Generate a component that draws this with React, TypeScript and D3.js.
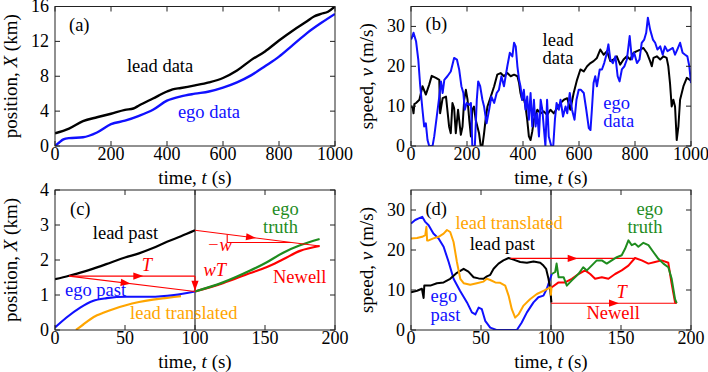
import React from 'react';
import * as d3 from 'd3';

type P = [number, number];

// (a) position X (km) vs time t (s)
const leadPosA: P[] = [[0,1.45],[50,2.0],[100,2.85],[150,3.3],[200,3.7],[250,4.15],[280,4.3],[300,4.65],[350,5.45],[400,6.25],[420,6.5],[450,6.65],[500,6.95],[550,7.3],[600,7.8],[650,8.65],[700,9.85],[750,10.85],[800,12.1],[850,13.25],[900,14.3],[925,14.85],[950,15.15],[975,15.4],[1000,16.0]];
const egoPosA: P[] = [[0,0],[15,0.4],[30,0.75],[50,0.9],[100,1.0],[150,1.55],[200,2.5],[250,2.9],[300,3.45],[350,4.15],[400,5.2],[450,5.7],[500,6.0],[550,6.25],[600,6.7],[650,7.3],[700,8.1],[750,9.15],[800,10.25],[850,11.6],[900,12.95],[950,14.1],[1000,15.15]];

// (b) speed v (m/s) vs time t (s)
const leadSpeedB: P[] = [[0,10],[2,9.9],[6,9.5],[9,8.2],[12,10.5],[18,10.8],[30,11.6],[41,15],[53,12.9],[65,15.4],[74,17.6],[89,17.1],[101,16.6],[104,8.2],[113,12],[125,12.4],[136,4.9],[142,3.2],[148,10.8],[154,9.5],[160,3.2],[168,9.1],[178,2.8],[184,4.9],[190,11.6],[196,14.1],[202,11.6],[208,6.6],[214,2.4],[219,9.1],[225,9.9],[231,6.6],[243,3.2],[249,0],[255,0],[261,3.2],[267,7],[273,9.9],[285,12.4],[297,15],[308,17.9],[320,18.3],[332,17.5],[344,18.3],[356,17.5],[368,17.9],[380,17.5],[386,15.8],[391,13.3],[397,11.6],[403,12],[409,9.9],[415,6.6],[421,2.4],[427,1.5],[433,3.6],[439,6.6],[451,9.1],[463,8.2],[474,8.7],[486,7.8],[498,9.1],[510,8.2],[522,9.5],[534,10.8],[546,11.6],[558,12],[569,9.1],[581,13.3],[593,16.6],[605,19.2],[617,18.7],[629,20],[641,20.8],[652,21.3],[664,22.1],[676,24.2],[688,22.9],[700,23.8],[712,21.3],[724,21.7],[735,22.5],[747,20.4],[759,21.7],[771,22.5],[783,21.7],[795,23.4],[807,23.8],[819,24.2],[830,24.6],[842,23.4],[854,21.3],[860,20],[866,22.1],[878,22.5],[890,21.7],[902,22.5],[913,22.1],[919,20],[925,15.8],[931,9.9],[937,11.6],[943,9.9],[949,1.5],[955,4.9],[961,11.6],[973,15],[985,17.1],[996,16.6],[1000,16.4]];
const egoSpeedB: P[] = [[0,26.9],[2,26.9],[9,28.4],[18,26.3],[26,21.7],[33,15],[41,9.1],[47,4.9],[53,5.7],[59,1.5],[65,0],[77,0],[83,2.4],[92,7.4],[101,12.4],[107,16.2],[113,13.3],[119,16.6],[130,17.5],[142,18.7],[154,22.1],[164,21.7],[172,19.2],[180,15],[187,13.3],[192,9.1],[199,10.8],[208,10.3],[214,10.8],[219,0],[228,0],[235,11.6],[240,16.2],[247,15],[255,11.6],[261,9.9],[270,5.7],[279,9.1],[287,12.4],[297,10.8],[306,13.3],[314,14.1],[323,17.5],[332,15],[344,20],[353,23.4],[362,22.5],[368,25.9],[374,25],[380,20],[386,16.6],[391,15],[397,11.6],[403,14.1],[409,9.1],[415,12.4],[421,6.6],[427,13.3],[433,4.9],[439,11.6],[445,4.9],[451,8.2],[457,2.4],[463,11.6],[469,9.1],[474,4.9],[480,0],[486,11.6],[492,2.4],[501,0],[508,0],[514,6.6],[520,10.8],[528,9.1],[534,11.6],[543,7.4],[552,9.9],[558,8.2],[567,13.3],[575,9.1],[584,6.6],[591,11.6],[599,14.1],[607,14.1],[617,13.3],[626,9.1],[635,4.5],[641,4],[646,9.1],[652,15.8],[658,17.5],[664,15],[674,19.2],[682,19.2],[690,20.8],[698,22.9],[705,25.5],[712,21.7],[721,20.8],[730,22.5],[738,17.5],[745,16.2],[753,19.2],[762,20],[771,21.7],[781,27.6],[789,21.7],[797,23.4],[807,20.8],[816,21.7],[824,25.9],[833,26.7],[840,28.4],[846,32.2],[854,29.2],[864,26.7],[872,25.9],[880,24.2],[890,25],[899,22.9],[907,25],[916,23.8],[925,24.2],[935,24.6],[943,22.9],[951,24.2],[961,25.9],[970,23.4],[979,22.9],[987,22.5],[994,20],[1000,15.8]];

// (c) position, zoom on 0..200 s
const leadPastC: P[] = [[0,1.45],[10,1.55],[20,1.66],[30,1.79],[40,1.93],[50,2.07],[60,2.19],[70,2.34],[80,2.52],[90,2.68],[100,2.85]];
const egoPastC: P[] = [[0,0.07],[8,0.35],[18,0.64],[27,0.83],[37,0.91],[51,0.95],[68,0.95],[85,1.0],[100,1.1]];
const leadTransC: P[] = [[15,0],[20,0.15],[25,0.3],[30,0.42],[35,0.5],[42,0.6],[50,0.7],[60,0.8],[70,0.87],[80,0.92],[90,0.97]];
const egoTruthC: P[] = [[100,1.1],[120,1.36],[139,1.69],[151,1.93],[163,2.21],[175,2.42],[189,2.6]];
const newellC: P[] = [[100,1.1],[120,1.34],[139,1.62],[151,1.79],[163,2.02],[175,2.26],[189,2.4]];
const arrowTC: P[] = [[10,1.54],[100,1.54]];
const arrowDiagC: P[] = [[10,1.54],[100,1.1]];
const arrowWTC: P[] = [[100,1.54],[100,1.12]];
const arrowWaveC: P[] = [[100,2.85],[189,2.4]];
const slopeC: P[] = [[123,2.73],[123,2.5],[169,2.5]];

// (d) speed, zoom on 0..200 s
const egoPastD: P[] = [[0,26.6],[3,27.5],[5.5,27.9],[8,28.3],[10,27.1],[12.6,26.2],[16,24.1],[19.7,22.9],[23.3,20.8],[26.9,17],[30.4,12.8],[35,9.8],[40,6.9],[43.5,4.4],[46,3.9],[48.3,5.6],[50.6,5.2],[53,2.3],[56.6,0.6],[61,0],[75.6,0],[79,1.8],[82.8,4.4],[87.5,6.9],[91,8.2],[94.6,8.6],[97,10.3],[99.4,12.8],[100.6,14]];
const leadPastD: P[] = [[0,9.4],[4.3,9.8],[7.8,10.3],[9,8],[9.5,11.1],[13.8,11.1],[18.5,11.7],[23.3,11.9],[28,12.8],[32.8,14.3],[37.6,15.3],[41,14.6],[44.7,13.2],[48.3,12.9],[51.8,12.8],[54.2,13.4],[56.6,13.8],[59,15.3],[62.5,16.6],[66,17.4],[69.7,18],[73.2,17.6],[78,17],[82.8,16.8],[87.5,17.1],[92.3,16.8],[94.6,16.1],[96.5,15.3],[98.2,12.8],[99.4,10.3],[100.3,6.9]];
const leadTransD: P[] = [[0,22.9],[4.3,23],[8,23.3],[10.2,23.7],[11,25.8],[11.5,22.4],[12.6,22.4],[16,22.9],[19.7,23.3],[23.3,24.1],[25.7,25],[28,24.5],[30.4,22],[32.8,17],[35.2,12.8],[37.6,11.7],[42.3,11.3],[47,11.7],[51.8,12.1],[54.2,12.8],[56.6,12.5],[60.2,11.9],[63.7,11.8],[67.3,11.1],[69.7,8.6],[72,5.2],[74.4,3.1],[76.8,3.9],[80.4,6.1],[85,7.7],[89.9,9],[94.6,9.8],[98.2,10.4],[99.6,10.7],[99.9,8.8],[100.4,10.7]];
const newellD: P[] = [[100.6,10.7],[105.4,11.9],[110,11.9],[114.9,12.8],[119.6,14],[124.4,14.9],[128,14],[131.5,12.8],[136.3,13.2],[141,12.8],[145.8,14],[150.5,14.9],[155.3,16.1],[160,18],[164.8,17.4],[169.6,16.6],[174.3,17],[179,17.4],[183.8,16.8],[186,11.9],[188.6,6.9],[189.3,6.7]];
const egoTruthD: P[] = [[100.6,14],[103,14.5],[104,16.6],[105.4,13.2],[109,13.2],[111.3,11.1],[114.9,12.4],[119.6,14],[123,15.7],[125.6,14.9],[129,16.1],[132.7,17.4],[136.3,17.4],[139.8,16.6],[143.4,17.4],[147,18.2],[150.5,18.7],[152.9,20.3],[155.3,22.4],[157.7,21.2],[160,21.6],[162.4,20.8],[166,21.8],[169.6,21.2],[173.1,19.5],[176.7,17.8],[180.3,16.6],[183.8,15.7],[186.2,12.8],[188.6,7.7],[189.8,6.7]];
const arrowTopD: P[] = [[71,17.9],[160,17.9]];
const arrowBotD: P[] = [[100,6.7],[190,6.7]];

const ticksLongX = [0, 200, 400, 600, 800, 1000];
const ticksShortX = [0, 50, 100, 150, 200];
const ticksPosA = [0, 4, 8, 12, 16];
const ticksPosC = [0, 1, 2, 3, 4];
const ticksSpeed = [0, 10, 20, 30];

const BLACK = '#000';
const BLUE = '#1010ff';
const ORANGE = '#ffa500';
const GREEN = '#1e8c1e';
const RED = '#f00';
const FONT = 'Liberation Serif';

type Frame = { l: number; r: number; t: number; b: number };
const fA: Frame = { l: 55, r: 335, t: 6.5, b: 146 };
const fB: Frame = { l: 411, r: 691, t: 6.5, b: 146 };
const fC: Frame = { l: 55, r: 335, t: 190, b: 330 };
const fD: Frame = { l: 411, r: 691, t: 190, b: 330 };

const mk = (f: Frame, xd: [number, number], yd: [number, number]) => ({
  x: d3.scaleLinear().domain(xd).range([f.l, f.r]),
  y: d3.scaleLinear().domain(yd).range([f.b, f.t]),
});
const sA = mk(fA, [0, 1000], [0, 16]);
const sB = mk(fB, [0, 1000], [0, 35]);
const sC = mk(fC, [0, 200], [0, 4]);
const sD = mk(fD, [0, 200], [0, 35]);

type S = ReturnType<typeof mk>;

const pathOf = (s: S, pts: P[], smooth = false) =>
  d3.line<P>().x((d) => s.x(d[0])).y((d) => s.y(d[1])).curve(smooth ? d3.curveMonotoneX : d3.curveLinear)(pts) || '';

// filled arrowhead at a fraction along the segment
const headOf = (s: S, seg: P[], frac: number) => {
  const x0 = s.x(seg[0][0]), y0 = s.y(seg[0][1]);
  const x1 = s.x(seg[1][0]), y1 = s.y(seg[1][1]);
  const dx = x1 - x0, dy = y1 - y0;
  const len = Math.hypot(dx, dy);
  const ux = dx / len, uy = dy / len;
  const L = 10, W = 3.6;
  const tx = x0 + dx * frac + (frac < 1 ? ux * L / 2 : 0);
  const ty = y0 + dy * frac + (frac < 1 ? uy * L / 2 : 0);
  const bx = tx - ux * L, by = ty - uy * L;
  return `M${tx},${ty}L${bx - uy * W},${by + ux * W}L${bx + uy * W},${by - ux * W}Z`;
};

const Arrow = ({ s, seg, frac }: { s: S; seg: P[]; frac: number }) => (
  <g>
    <path d={pathOf(s, seg)} stroke={RED} strokeWidth={1.1} fill="none" />
    <path d={headOf(s, seg, frac)} fill={RED} />
  </g>
);

const Curve = ({ s, pts, color, smooth = false, w = 2.2 }: { s: S; pts: P[]; color: string; smooth?: boolean; w?: number }) => (
  <path d={pathOf(s, pts, smooth)} stroke={color} strokeWidth={w} fill="none" strokeLinejoin="round" />
);

const Label = ({ s, at, color, children, italic = false }: { s: S; at: P; color: string; children: React.ReactNode; italic?: boolean }) => (
  <text x={s.x(at[0])} y={s.y(at[1])} fill={color} fontSize={18.5} fontFamily={FONT} fontStyle={italic ? 'italic' : 'normal'}>
    {children}
  </text>
);

const Panel = ({ f, s, xTicks, yTicks, yTitle, id, marks, notes }: {
  f: Frame; s: S; xTicks: number[]; yTicks: number[]; yTitle: React.ReactNode; id: string;
  marks: React.ReactNode; notes: React.ReactNode;
}) => {
  const tk = 5;
  return (
    <g>
      <defs>
        <clipPath id={id}>
          <rect x={f.l} y={f.t} width={f.r - f.l} height={f.b - f.t} />
        </clipPath>
      </defs>
      <g clipPath={`url(#${id})`}>{marks}</g>
      <rect x={f.l} y={f.t} width={f.r - f.l} height={f.b - f.t} fill="none" stroke="#222" strokeWidth={1} />
      {xTicks.map((t) => (
        <g key={'x' + t}>
          <line x1={s.x(t)} x2={s.x(t)} y1={f.b} y2={f.b - tk} stroke="#222" />
          <line x1={s.x(t)} x2={s.x(t)} y1={f.t} y2={f.t + tk} stroke="#222" />
          <text x={s.x(t)} y={f.b + 14} textAnchor="middle" fontSize={18} fontFamily={FONT}>{t}</text>
        </g>
      ))}
      {yTicks.map((v) => (
        <g key={'y' + v}>
          <line x1={f.l} x2={f.l + tk} y1={s.y(v)} y2={s.y(v)} stroke="#222" />
          <line x1={f.r} x2={f.r - tk} y1={s.y(v)} y2={s.y(v)} stroke="#222" />
          <text x={f.l - 6} y={s.y(v)} dy="0.33em" textAnchor="end" fontSize={18} fontFamily={FONT}>{v}</text>
        </g>
      ))}
      <text x={(f.l + f.r) / 2} y={f.b + 37.5} textAnchor="middle" fontSize={19} fontFamily={FONT}>
        time, <tspan fontStyle="italic">t</tspan> (s)
      </text>
      <text transform={`translate(${f.l - 38},${(f.t + f.b) / 2}) rotate(-90)`} textAnchor="middle" fontSize={19} fontFamily={FONT}>
        {yTitle}
      </text>
      {notes}
    </g>
  );
};

const posTitle = (<>position, <tspan fontStyle="italic">X</tspan> (km)</>);
const speedTitle = (<>speed, <tspan fontStyle="italic">v</tspan> (m/s)</>);

export default function App() {
  return (
    <svg width={708} height={372} style={{ position: 'absolute', left: 0, top: 0, background: '#fff' }} fontFamily={FONT}>
      <Panel f={fA} s={sA} xTicks={ticksLongX} yTicks={ticksPosA} yTitle={posTitle} id="ca"
        marks={<>
          <Curve s={sA} pts={leadPosA} color={BLACK} smooth w={2.4} />
          <Curve s={sA} pts={egoPosA} color={BLUE} smooth w={2.4} />
        </>}
        notes={<>
          <Label s={sA} at={[50, 13.2]} color={BLACK}>(a)</Label>
          <Label s={sA} at={[257, 8.5]} color={BLACK}>lead data</Label>
          <Label s={sA} at={[439, 3.2]} color={BLUE}>ego data</Label>
        </>}
      />
      <Panel f={fB} s={sB} xTicks={ticksLongX} yTicks={ticksSpeed} yTitle={speedTitle} id="cb"
        marks={<>
          <Curve s={sB} pts={leadSpeedB} color={BLACK} w={2} />
          <Curve s={sB} pts={egoSpeedB} color={BLUE} w={2} />
        </>}
        notes={<>
          <Label s={sB} at={[52, 29]} color={BLACK}>(b)</Label>
          <Label s={sB} at={[470, 25.2]} color={BLACK}>lead</Label>
          <Label s={sB} at={[470, 20.6]} color={BLACK}>data</Label>
          <Label s={sB} at={[687, 9.3]} color={BLUE}>ego</Label>
          <Label s={sB} at={[687, 4.7]} color={BLUE}>data</Label>
        </>}
      />
      <Panel f={fC} s={sC} xTicks={ticksShortX} yTicks={ticksPosC} yTitle={posTitle} id="cc"
        marks={<>
          <line x1={sC.x(100)} x2={sC.x(100)} y1={fC.t} y2={fC.b} stroke={BLACK} strokeWidth={1} />
          <Curve s={sC} pts={leadTransC} color={ORANGE} smooth />
          <Curve s={sC} pts={egoPastC} color={BLUE} smooth />
          <Curve s={sC} pts={leadPastC} color={BLACK} smooth />
          <Curve s={sC} pts={newellC} color={RED} smooth />
          <Curve s={sC} pts={egoTruthC} color={GREEN} smooth />
          <Arrow s={sC} seg={arrowTC} frac={0.55} />
          <Arrow s={sC} seg={arrowDiagC} frac={0.45} />
          <Arrow s={sC} seg={arrowWTC} frac={1} />
          <Arrow s={sC} seg={arrowWaveC} frac={0.45} />
          <path d={pathOf(sC, slopeC)} stroke={RED} strokeWidth={1.1} fill="none" />
        </>}
        notes={<>
          <Label s={sC} at={[10.7, 3.29]} color={BLACK}>(c)</Label>
          <Label s={sC} at={[27, 2.6]} color={BLACK}>lead past</Label>
          <Label s={sC} at={[62, 1.69]} color={RED} italic>T</Label>
          <Label s={sC} at={[106, 1.54]} color={RED} italic>wT</Label>
          <Label s={sC} at={[7.1, 0.97]} color={BLUE}>ego past</Label>
          <Label s={sC} at={[53.6, 0.31]} color={ORANGE}>lead translated</Label>
          <Label s={sC} at={[155, 3.29]} color={GREEN}>ego</Label>
          <Label s={sC} at={[148.6, 2.77]} color={GREEN}>truth</Label>
          <Label s={sC} at={[108.6, 2.26]} color={RED} italic>−w</Label>
          <Label s={sC} at={[155.7, 1.34]} color={RED}>Newell</Label>
        </>}
      />
      <Panel f={fD} s={sD} xTicks={ticksShortX} yTicks={ticksSpeed} yTitle={speedTitle} id="cd"
        marks={<>
          <line x1={sD.x(100)} x2={sD.x(100)} y1={fD.t} y2={fD.b} stroke={BLACK} strokeWidth={1} />
          <Curve s={sD} pts={egoPastD} color={BLUE} w={2} />
          <Curve s={sD} pts={leadPastD} color={BLACK} w={2} />
          <Curve s={sD} pts={leadTransD} color={ORANGE} w={2} />
          <Arrow s={sD} seg={arrowTopD} frac={0.5} />
          <Arrow s={sD} seg={arrowBotD} frac={0.5} />
          <Curve s={sD} pts={newellD} color={RED} w={2} />
          <Curve s={sD} pts={egoTruthD} color={GREEN} w={2} />
        </>}
        notes={<>
          <Label s={sD} at={[10.3, 28.75]} color={BLACK}>(d)</Label>
          <Label s={sD} at={[31.7, 25.3]} color={ORANGE}>lead translated</Label>
          <Label s={sD} at={[41.9, 20]} color={BLACK}>lead past</Label>
          <Label s={sD} at={[14, 6.9]} color={BLUE}>ego</Label>
          <Label s={sD} at={[14, 2.2]} color={BLUE}>past</Label>
          <Label s={sD} at={[161, 28.75]} color={GREEN}>ego</Label>
          <Label s={sD} at={[154.6, 24.25]} color={GREEN}>truth</Label>
          <Label s={sD} at={[146.7, 8.1]} color={RED} italic>T</Label>
          <Label s={sD} at={[125.3, 2.8]} color={RED}>Newell</Label>
        </>}
      />
    </svg>
  );
}
